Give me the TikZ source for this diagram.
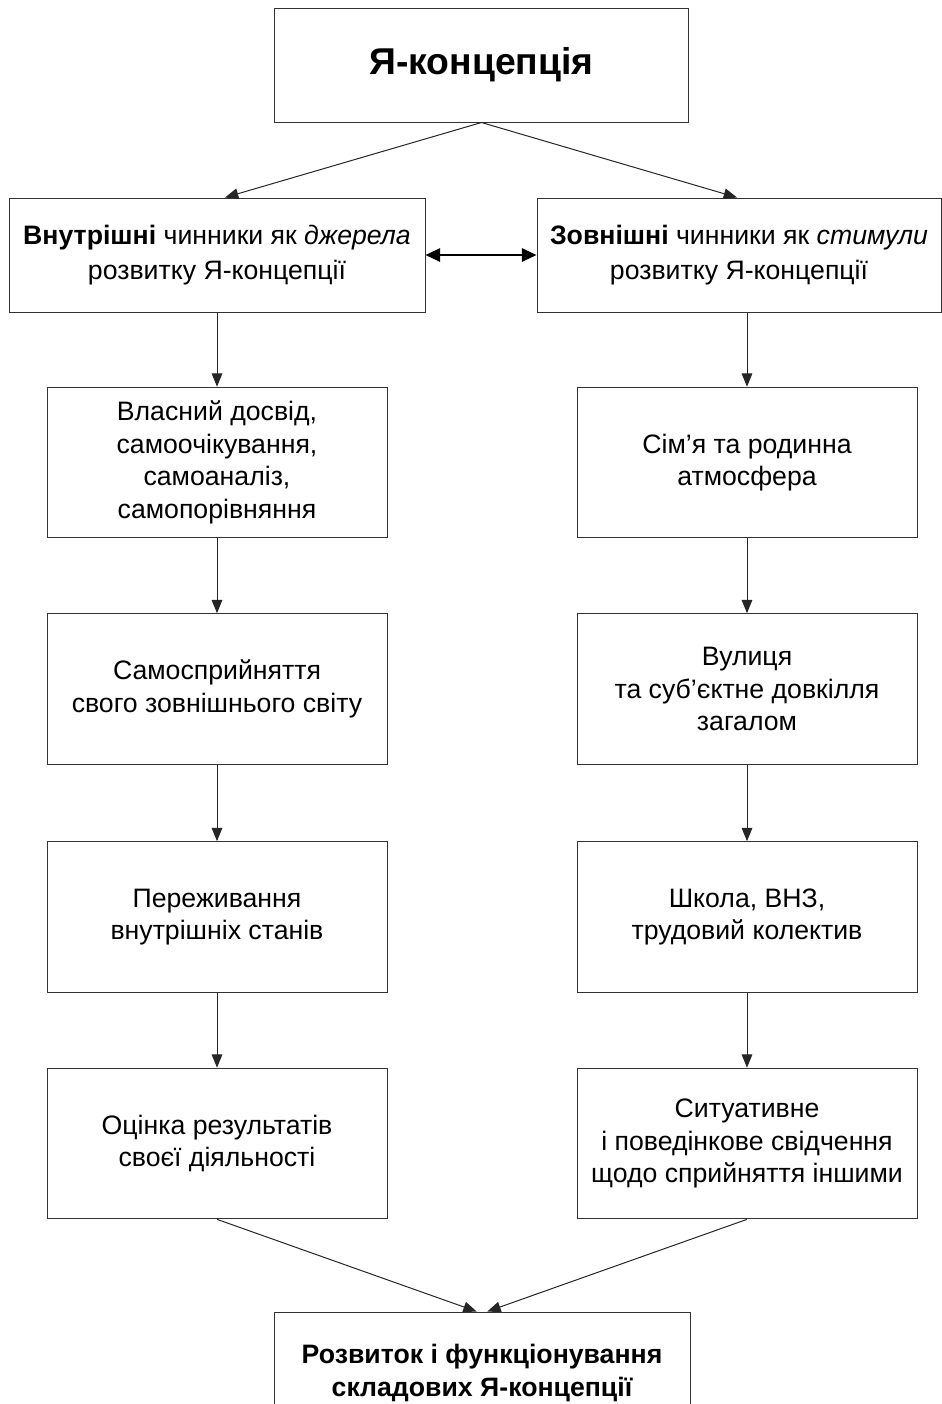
\documentclass[tikz,border=0pt]{standalone}
\usepackage{fontspec}
\setmainfont{Liberation Sans}
\usetikzlibrary{arrows.meta}

\begin{document}
\begin{tikzpicture}[x=0.75pt, y=-0.75pt]
	\tikzstyle{Blok} = [rectangle, minimum width=255pt, minimum height=113pt, inner sep=0pt, align=center, draw=black!80, line width=0.75pt, font=\fontsize{20}{24.5}\selectfont]
	\tikzstyle{Sor} = [Blok, minimum width=312pt, minimum height=85.5pt, font=\fontsize{20}{26}\selectfont]
	\tikzstyle{Cim} = [Blok, minimum width=311pt, minimum height=85.5pt, font=\fontsize{28}{32}\selectfont\bfseries]
	\tikzstyle{Veg} = [Blok, minimum width=312pt, minimum height=91.5pt, font=\fontsize{20}{25}\selectfont\bfseries]
	\tikzstyle{arrow} = [-{Triangle[length=10pt, width=8pt]}, draw=black!85, line width=0.75pt]
	\tikzstyle{kolcson} = [{Triangle[length=11pt, width=10pt]}-{Triangle[length=11pt, width=10pt]}, draw=black, line width=1.5pt]

	\useasboundingbox (0,0) rectangle (942,1404);
	\clip (0,0) rectangle (942,1404);

	\node (ja) [Cim] at (481.5,65) {Я-концепція};
	\node (vn) [Sor] at (217,255) {\textbf{Внутрішні} чинники як \textit{джерела}\\розвитку Я-концепції};
	\node (zo) [Sor, minimum width=303pt] at (739,255) {\textbf{Зовнішні} чинники як \textit{стимули}\\розвитку Я-концепції};

	% internal sources
	\node (v1) [Blok] at (217,462.5) {Власний досвід,\\самоочікування,\\самоаналіз,\\самопорівняння};
	\node (v2) [Blok] at (217,689) {Самосприйняття\\свого зовнішнього світу};
	\node (v3) [Blok] at (217,917) {Переживання\\внутрішніх станів};
	\node (v4) [Blok] at (217,1143.5) {Оцінка результатів\\своєї діяльності};

	% external stimuli
	\node (z1) [Blok] at (747,462.5) {Сім’я та родинна\\атмосфера};
	\node (z2) [Blok] at (747,689) {Вулиця\\та суб’єктне довкілля\\загалом};
	\node (z3) [Blok] at (747,917) {Школа, ВНЗ,\\трудовий колектив};
	\node (z4) [Blok] at (747,1143.5) {Ситуативне\\і поведінкове свідчення\\щодо сприйняття іншими};

	\node (rez) [Veg] at (482,1373) {Розвиток і функціонування\\складових Я-концепції};

	\draw [arrow] (ja.south) -- ([xshift=6pt]vn.north);
	\draw [arrow] (ja.south) -- ([xshift=-1.5pt]zo.north);
	\draw [kolcson] (vn.east) -- (zo.west);

	\draw [arrow] (vn.south) -- (v1.north);
	\draw [arrow] (v1) -- (v2);
	\draw [arrow] (v2) -- (v3);
	\draw [arrow] (v3) -- (v4);

	\draw [arrow] (zo.south -| z1.north) -- (z1.north);
	\draw [arrow] (z1) -- (z2);
	\draw [arrow] (z2) -- (z3);
	\draw [arrow] (z3) -- (z4);

	\draw [arrow] (v4.south) -- ([xshift=-4pt]rez.north);
	\draw [arrow] (z4.south) -- ([xshift=4pt]rez.north);
\end{tikzpicture}
\end{document}
